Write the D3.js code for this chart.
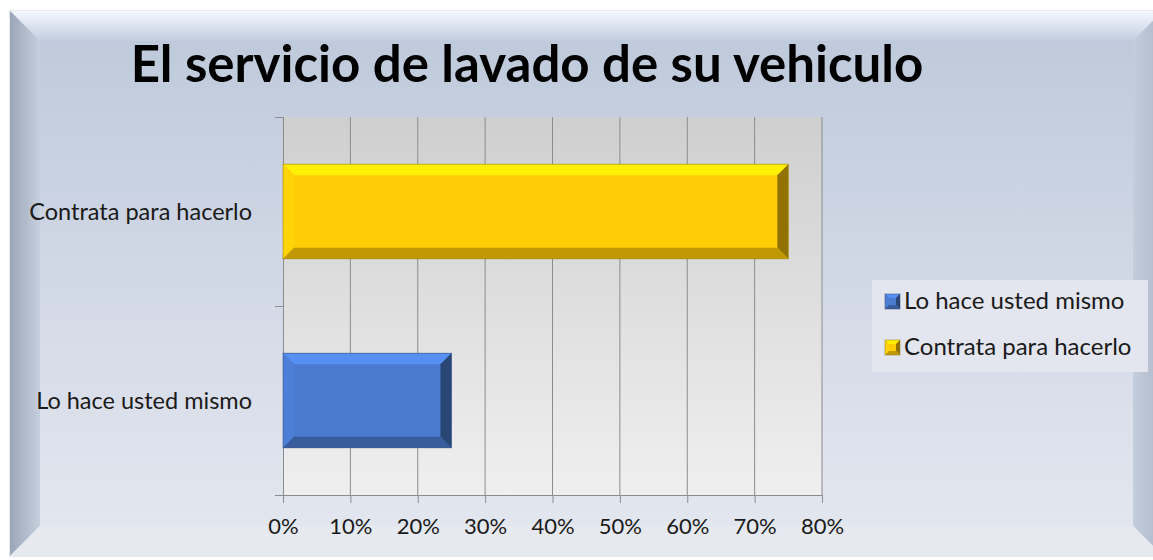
<!DOCTYPE html>
<html>
<head>
<meta charset="utf-8">
<script src="https://cdn.jsdelivr.net/npm/d3@7"></script>
<style>
  body { margin: 0; background: #fff; }
  svg { display: block; font-family: Lato, "Open Sans", sans-serif; }
</style>
</head>
<body>
<svg id="chart" width="1153" height="560"></svg>
<script>
const categories = ["Lo hace usted mismo", "Contrata para hacerlo"];
const values = [0.25, 0.75];
const colors = ["#4a7bcf", "#ffcc05"];
const tickValues = [0, 0.1, 0.2, 0.3, 0.4, 0.5, 0.6, 0.7, 0.8];
const title = "El servicio de lavado de su vehiculo";

const svg = d3.select("#chart");
const defs = svg.append("defs");

function lg(id, stops, x2, y2) {
  const g = defs.append("linearGradient").attr("id", id)
    .attr("x1", 0).attr("y1", 0).attr("x2", x2).attr("y2", y2);
  stops.forEach(([o, c]) => g.append("stop").attr("offset", o).attr("stop-color", c));
}
lg("bg", [[0, "#bcc8da"], [0.6, "#d6dce8"], [1, "#e4e8f0"]], 0, 1);
lg("plotbg", [[0, "#cfcfcf"], [1, "#efefef"]], 0, 1);
lg("bevTop", [[0, "#f4f8ff"], [1, "#c3cde0"]], 0, 1);
lg("bevLeft", [[0, "#9aa6b8"], [1, "#c6cfdd"]], 1, 0);
lg("bevRight", [[0, "#c4cddc"], [1, "#aeb8c8"]], 1, 0);

// outer frame with bevel (runs slightly off the right edge, as in the picture)
const F = { x: 10, y: 11, w: 1153, h: 545, b: 30 };
svg.append("rect").attr("x", F.x).attr("y", F.y).attr("width", F.w).attr("height", F.h)
  .attr("fill", "url(#bg)").attr("stroke", "#d0d4dc");
const fx2 = F.x + F.w, fy2 = F.y + F.h;
svg.append("path").attr("fill", "url(#bevTop)")
  .attr("d", `M${F.x},${F.y}L${fx2},${F.y}L${fx2 - F.b},${F.y + F.b}L${F.x + F.b},${F.y + F.b}Z`);
svg.append("path").attr("fill", "url(#bevLeft)")
  .attr("d", `M${F.x},${F.y}L${F.x + F.b},${F.y + F.b}L${F.x + F.b},${fy2 - F.b}L${F.x},${fy2}Z`);
svg.append("path").attr("fill", "url(#bevRight)")
  .attr("d", `M${fx2},${F.y}L${fx2},${fy2}L${fx2 - F.b},${fy2 - F.b}L${fx2 - F.b},${F.y + F.b}Z`);
svg.append("path").attr("fill", "#e6e9ef")
  .attr("d", `M${F.x},${fy2}L${F.x + F.b},${fy2 - F.b}L${fx2 - F.b},${fy2 - F.b}L${fx2},${fy2}Z`);

svg.append("text").attr("x", 527).attr("y", 82).attr("text-anchor", "middle")
  .attr("font-size", 51).attr("font-weight", "bold").attr("fill", "#000").text(title);

const m = { left: 283, top: 117, right: 822, bottom: 495 };
const x = d3.scaleLinear().domain([0, 0.8]).range([m.left, m.right]);
const y = d3.scaleBand().domain(categories.slice().reverse()).range([m.top, m.bottom])
  .paddingInner(0.5).paddingOuter(0.25);

svg.append("rect").attr("x", m.left).attr("y", m.top)
  .attr("width", m.right - m.left).attr("height", m.bottom - m.top).attr("fill", "url(#plotbg)");

// gridlines
svg.append("g").selectAll("line").data(tickValues.slice(1)).join("line")
  .attr("x1", d => x(d)).attr("x2", d => x(d)).attr("y1", m.top).attr("y2", m.bottom)
  .attr("stroke", "#8c8c8c").attr("stroke-width", 1);

// x axis
const xAxis = svg.append("g").attr("transform", `translate(0,${m.bottom})`)
  .call(d3.axisBottom(x).tickValues(tickValues).tickFormat(d3.format(".0%")).tickSize(8).tickPadding(15));
xAxis.select(".domain").attr("stroke", "#8c8c8c").attr("d", `M${m.left - 8},0.5H${m.right}`);
xAxis.selectAll(".tick line").attr("stroke", "#8c8c8c");
xAxis.selectAll("text").attr("font-size", 22).attr("fill", "#1a1a1a").attr("font-family", "Lato, sans-serif");

// y axis: ticks at category boundaries
const yBounds = [m.top, (m.top + m.bottom) / 2, m.bottom];
svg.append("line").attr("x1", m.left + 0.5).attr("x2", m.left + 0.5).attr("y1", m.top).attr("y2", m.bottom)
  .attr("stroke", "#8c8c8c");
svg.append("g").selectAll("line").data(yBounds).join("line")
  .attr("x1", m.left - 8).attr("x2", m.left).attr("y1", d => d + 0.5).attr("y2", d => d + 0.5)
  .attr("stroke", "#8c8c8c");
svg.append("g").selectAll("text").data(categories).join("text")
  .attr("x", 252).attr("y", d => y(d) + y.bandwidth() / 2 + 8).attr("text-anchor", "end")
  .attr("font-size", 23.5).attr("fill", "#1a1a1a").text(d => d);

// bevelled bars
function bevelRect(g, x0, y0, w, h, c, b) {
  const col = d3.color(c);
  g.append("rect").attr("x", x0).attr("y", y0).attr("width", w).attr("height", h).attr("fill", c);
  const x1 = x0 + w, y1 = y0 + h;
  g.append("path").attr("fill", col.brighter(0.45))
    .attr("d", `M${x0},${y0}L${x1},${y0}L${x1 - b},${y0 + b}L${x0 + b},${y0 + b}Z`);
  g.append("path").attr("fill", col.brighter(0.1))
    .attr("d", `M${x0},${y0}L${x0 + b},${y0 + b}L${x0 + b},${y1 - b}L${x0},${y1}Z`);
  g.append("path").attr("fill", col.darker(1.6))
    .attr("d", `M${x1},${y0}L${x1},${y1}L${x1 - b},${y1 - b}L${x1 - b},${y0 + b}Z`);
  g.append("path").attr("fill", col.darker(0.8))
    .attr("d", `M${x0},${y1}L${x0 + b},${y1 - b}L${x1 - b},${y1 - b}L${x1},${y1}Z`);
  g.append("rect").attr("x", x0).attr("y", y0).attr("width", w).attr("height", h)
    .attr("fill", "none").attr("stroke", col.darker(1.5)).attr("stroke-opacity", 0.5);
}

const bars = svg.append("g");
categories.forEach((c, i) => {
  const bg = bars.append("g");
  bevelRect(bg, x(0), y(c), x(values[i]) - x(0), y.bandwidth(), colors[i], 11);
});

// legend
const L = { x: 872, y: 280, w: 276, h: 92 };
svg.append("rect").attr("x", L.x).attr("y", L.y).attr("width", L.w).attr("height", L.h)
  .attr("fill", "#e3e6ee");
const leg = svg.append("g").selectAll("g").data(categories).join("g")
  .attr("transform", (d, i) => `translate(${L.x + 13},${L.y + 21 + i * 46})`);
leg.each(function (d, i) {
  bevelRect(d3.select(this), 0, -7, 15, 15, colors[i], 4);
});
leg.append("text").attr("x", 19).attr("y", 8).attr("font-size", 24).attr("fill", "#1a1a1a").text(d => d);
</script>
</body>
</html>
